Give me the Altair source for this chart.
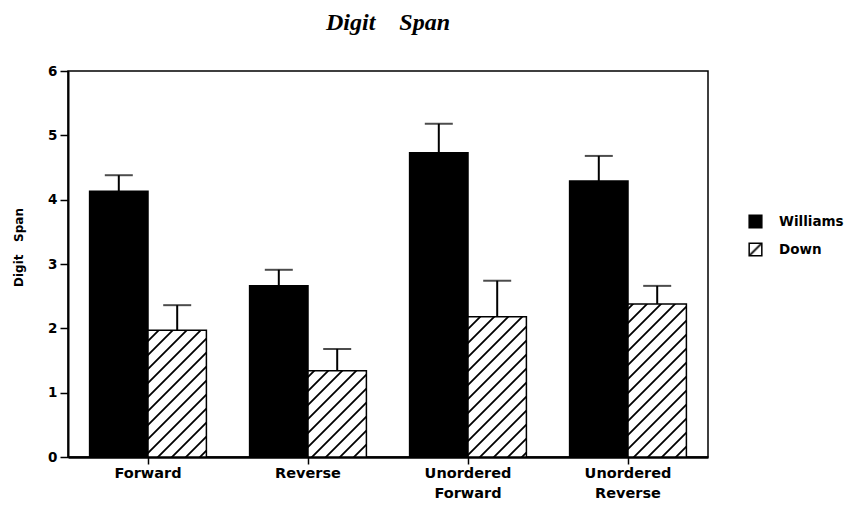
import altair as alt
import pandas as pd
import jinja2
from altair.utils.html import HTML_TEMPLATE

# ---- data ----
categories = ["Forward", "Reverse", "Unordered Forward", "Unordered Reverse"]
groups = ["Williams", "Down"]
williams_mean = [4.13, 2.66, 4.73, 4.29]
williams_se = [0.25, 0.25, 0.45, 0.39]
down_mean = [1.97, 1.34, 2.18, 2.38]
down_se = [0.39, 0.34, 0.56, 0.28]
y_ticks = [0, 0.5, 1, 1.5, 2, 2.5, 3, 3.5, 4, 4.5, 5, 5.5, 6]

rows = []
for i, c in enumerate(categories):
    rows.append({"task": c, "group": "Williams", "mean": williams_mean[i],
                 "top": williams_mean[i] + williams_se[i]})
    rows.append({"task": c, "group": "Down", "mean": down_mean[i],
                 "top": down_mean[i] + down_se[i]})
df = pd.DataFrame(rows)

FONT = "DejaVu Sans"

x = alt.X("task:N", sort=categories, title=None,
          scale=alt.Scale(paddingInner=0.27, paddingOuter=0.135),
          axis=alt.Axis(labelAngle=0, labelFont=FONT, labelFontSize=14.5,
                        labelFontWeight="bold", labelColor="black",
                        labelExpr="split(datum.value, ' ')",
                        labelLineHeight=20, labelPadding=2,
                        tickSize=7, tickColor="black", tickWidth=1.5,
                        domainColor="black", domainWidth=2.5))
xo = alt.XOffset("group:N", sort=groups, scale=alt.Scale(paddingInner=0, paddingOuter=0))

y_axis = alt.Axis(values=y_ticks, grid=False,
                  labelExpr="datum.value % 1 === 0 ? format(datum.value, 'd') : ''",
                  labelFont=FONT, labelFontSize=13.5, labelFontWeight="bold",
                  labelColor="black", labelPadding=3,
                  tickColor="black", tickWidth=1.5,
                  tickSize={"condition": {"test": "datum.value % 1 !== 0", "value": 3}, "value": 8},
                  domainColor="black", domainWidth=2,
                  title="Digit\u00a0\u00a0 Span", titleFont=FONT, titleFontSize=12,
                  titleFontWeight="bold", titleColor="black",
                  titleAngle=-90, titleX=-50, titleY=176, titleAlign="center",
                  titleBaseline="middle")

bars = alt.Chart(df).mark_bar(stroke="black", strokeWidth=1.5).encode(
    x=x,
    xOffset=xo,
    y=alt.Y("mean:Q", scale=alt.Scale(domain=[0, 6], nice=False), axis=y_axis),
    color=alt.Color("group:N", sort=groups,
                    scale=alt.Scale(domain=groups, range=["black", "url(#hatch)"]),
                    legend=alt.Legend(title=None, orient="none", legendX=680, legendY=143,
                                      symbolType="square", symbolSize=160,
                                      symbolStrokeColor="black", symbolStrokeWidth=1.5,
                                      labelFont=FONT, labelFontSize=13.5,
                                      labelFontWeight="bold", labelColor="black",
                                      rowPadding=9, labelOffset=16, padding=0)),
)

err = alt.Chart(df).mark_rule(color="black", strokeWidth=2).encode(
    x=x, xOffset=xo, y="mean:Q", y2="top:Q")

caps = alt.Chart(df).mark_tick(color="black", thickness=2, size=28, orient="horizontal").encode(
    x=x, xOffset=xo, y="top:Q")

chart = (bars + err + caps).properties(
    width=640, height=386,
    title=alt.Title("Digit\u00a0\u00a0\u00a0 Span", font="Liberation Serif", fontSize=24,
                    fontStyle="italic", fontWeight="bold", color="black",
                    anchor="middle", offset=29),
    autosize=alt.AutoSizeParams(type="none"),
    padding={"left": 60, "top": 63, "right": 140, "bottom": 50},
).configure_view(stroke="black", strokeWidth=1.5)

DEFS = ('<svg width="0" height="0" style="position:absolute">'
        '<defs><pattern id="hatch" patternUnits="userSpaceOnUse" width="14" height="14">'
        '<rect width="14" height="14" fill="white"/>'
        '<path d="M-2,2 L2,-2 M0,14 L14,0 M12,16 L16,12" stroke="black" stroke-width="1.8"/>'
        '</pattern></defs></svg>')


class HatchTemplate(jinja2.Template):
    def render(self, *args, **kwargs):
        html = HTML_TEMPLATE.render(*args, **kwargs)
        return html.replace("<body>", "<body>\n" + DEFS, 1)


chart.save("out.html", embed_options={"renderer": "svg", "actions": False},
           template=HatchTemplate(""))
